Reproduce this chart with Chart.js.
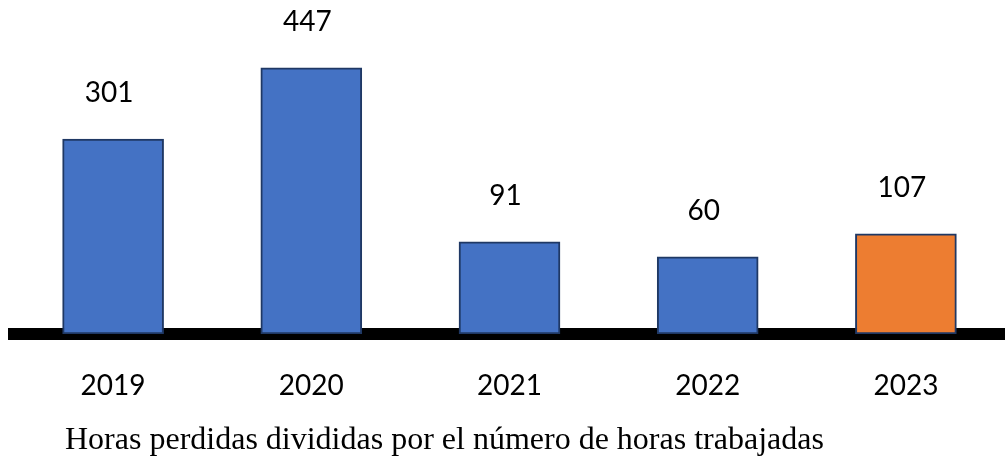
<!DOCTYPE html>
<html>
<head>
<meta charset="utf-8">
<script src="https://cdn.jsdelivr.net/npm/chart.js@4.4.1/dist/chart.umd.min.js"></script>
<style>
    html, body { margin: 0; padding: 0; background: #fff; }
    #wrap { width: 1005px; height: 459px; }
</style>
</head>
<body>
<div id="wrap"><canvas id="chart"></canvas></div>
<script>
// Chart data
const years = ['2019', '2020', '2021', '2022', '2023'];
const lostHours = [301, 447, 91, 60, 107];
const barColors = ['#4472C4', '#4472C4', '#4472C4', '#4472C4', '#ED7D31'];
const chartTitle = 'Horas perdidas divididas por el número de horas trabajadas';

// Value labels above each bar + caption under the axis
const valueLabels = {
    id: 'valueLabels',
    afterDatasetsDraw(chart) {
        const ctx = chart.ctx;
        const meta = chart.getDatasetMeta(0);
        ctx.save();
        ctx.font = '28px Lato';
        ctx.fillStyle = '#000';
        ctx.textAlign = 'center';
        ctx.textBaseline = 'middle';
        meta.data.forEach((bar, i) => {
            ctx.fillText(String(lostHours[i]), bar.x - 4, bar.y - 46);
        });

        // caption sits left of centre in the original
        ctx.font = '32px "Liberation Serif"';
        ctx.textAlign = 'left';
        ctx.textBaseline = 'alphabetic';
        ctx.fillText(chartTitle, 65, 449);
        ctx.restore();
    }
};

const yMin = -98;

new Chart(document.getElementById('chart'), {
    type: 'bar',
    data: {
        labels: years,
        datasets: [{
            data: lostHours,
            base: yMin,
            backgroundColor: barColors,
            borderColor: '#1F3864',
            borderWidth: 2,
            borderSkipped: false,
            barThickness: 101
        }]
    },
    options: {
        responsive: true,
        maintainAspectRatio: false,
        animation: false,
        layout: { padding: { left: 14, right: 0, top: 0, bottom: 0 } },
        scales: {
            x: {
                grid: { display: false, drawTicks: false },
                border: { display: true, color: '#000', width: 12 },
                ticks: { color: '#000', font: { family: 'Lato', size: 28 }, padding: 35 },
                afterFit(scale) { scale.height = 125; }
            },
            y: {
                display: false,
                min: yMin,
                max: 586
            }
        },
        plugins: {
            legend: { display: false },
            tooltip: { enabled: false },
            title: { display: false }
        }
    },
    plugins: [valueLabels]
});
</script>
</body>
</html>
